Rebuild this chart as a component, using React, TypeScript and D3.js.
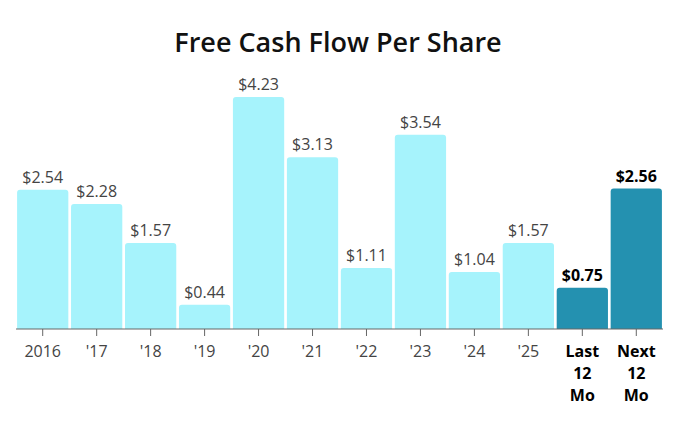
import React from "react";
import * as d3 from "d3";

const categories = ["2016", "'17", "'18", "'19", "'20", "'21", "'22", "'23", "'24", "'25", "Last 12 Mo", "Next 12 Mo"];
const values = [2.54, 2.28, 1.57, 0.44, 4.23, 3.13, 1.11, 3.54, 1.04, 1.57, 0.75, 2.56];
const highlighted = ["Last 12 Mo", "Next 12 Mo"];

const width = 686;
const height = 429;
const baseY = 329;
const font = "'Open Sans', sans-serif";

const App: React.FC = () => {
  const x = d3.scaleBand<string>().domain(categories).range([16, 663]).paddingInner(0.05).paddingOuter(0.02);
  const y = d3.scaleLinear().domain([0, 4.23]).range([baseY, 97]);

  const barPath = (x0: number, y0: number, w: number, h: number, r: number) => {
    const p = d3.path();
    p.moveTo(x0, y0 + h);
    p.lineTo(x0, y0 + r);
    p.arcTo(x0, y0, x0 + r, y0, r);
    p.lineTo(x0 + w - r, y0);
    p.arcTo(x0 + w, y0, x0 + w, y0 + r, r);
    p.lineTo(x0 + w, y0 + h);
    p.closePath();
    return p.toString();
  };

  return (
    <svg width={width} height={height} style={{ display: "block", margin: -8 }} fontFamily={font}>
      <rect width={width} height={height} fill="#fff" />
      <text x={338} y={52} textAnchor="middle" fontSize={27} fontWeight={600} fill="#111">
        Free Cash Flow Per Share
      </text>
      {categories.map((c, i) => {
        const hi = highlighted.includes(c);
        const bx = x(c)!;
        const bw = x.bandwidth();
        const top = y(values[i]);
        return (
          <g key={c}>
            <path d={barPath(bx, top, bw, baseY - top, 3)} fill={hi ? "#2491b0" : "#a6f3fc"} />
            <text
              x={bx + bw / 2}
              y={top - 7}
              textAnchor="middle"
              fontSize={16}
              fontWeight={hi ? 700 : 400}
              fill={hi ? "#000" : "#444"}
            >
              {"$" + values[i].toFixed(2)}
            </text>
          </g>
        );
      })}
      <line x1={16} x2={663} y1={baseY} y2={baseY} stroke="#666" strokeWidth={1} />
      {categories.map((c) => {
        const hi = highlighted.includes(c);
        const cx = x(c)! + x.bandwidth() / 2;
        const lines = hi ? c.split(" ") : [c];
        return (
          <g key={"t" + c}>
            <line x1={cx} x2={cx} y1={baseY} y2={baseY + 7} stroke="#666" />
            <text
              x={cx}
              textAnchor="middle"
              fontSize={16}
              fontWeight={hi ? 700 : 400}
              fill={hi ? "#000" : "#444"}
            >
              {lines.map((l, k) => (
                <tspan key={k} x={cx} y={357 + k * 22}>
                  {l}
                </tspan>
              ))}
            </text>
          </g>
        );
      })}
    </svg>
  );
};

export default App;
